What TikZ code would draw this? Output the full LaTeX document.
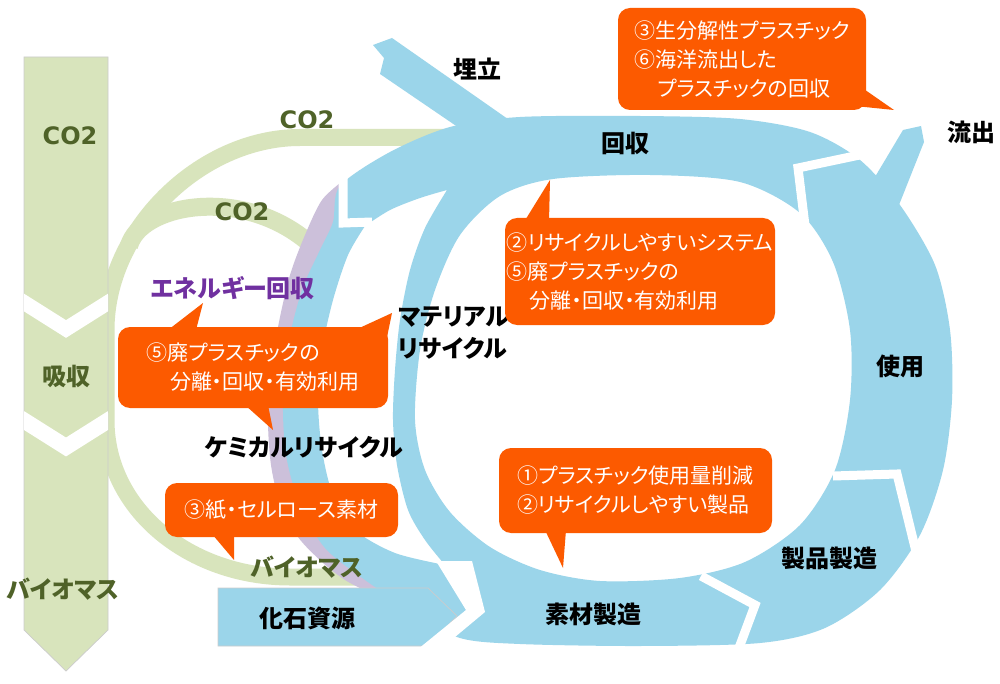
\documentclass[tikz,border=0pt]{standalone}
\usepackage{fontspec}
\newfontfamily\jp[RawFeature=+palt]{Noto Sans CJK JP}
\newfontfamily\dvs{DejaVu Sans}
\definecolor{ringblue}{RGB}{155,213,234}
\definecolor{leaf}{RGB}{216,228,188}
\definecolor{lav}{RGB}{204,192,218}
\definecolor{olive}{RGB}{79,98,40}
\definecolor{vio}{RGB}{112,48,160}
\definecolor{orng}{RGB}{252,90,0}
\begin{document}
\begin{tikzpicture}[x=1pt,y=-1pt,
  lbl/.style={font=\jp\bfseries\fontsize{24}{32}\selectfont, inner sep=0pt, text=black},
  glbl/.style={font=\dvs\bfseries\fontsize{24}{28}\selectfont, inner sep=0pt, text=olive},
  jglbl/.style={lbl, text=olive},
  cbox/.style={fill=orng, rounded corners=12pt, text=white, font=\jp\fontsize{21}{29}\selectfont, align=left, inner sep=0pt},
  ctail/.style={fill=orng},
  cutline/.style={draw=white, line width=9pt, line join=miter},
  thinrim/.style={draw=black!20, line width=0.7pt}
]
\useasboundingbox (0,0) rectangle (1000,684);
\fill[white] (0,0) rectangle (1000,684);

% green carbon path
\draw[leaf, line width=17pt] (448,137.5) -- (300,137.5) .. controls (200,137.5) and (106,230) .. (106,330) -- (106,420) .. controls (106,510) and (190,577) .. (290,577) -- (362,577);
\draw[leaf, line width=18pt] (129,246) .. controls (140,205) and (240,185) .. (308,242);

% left green arrow
\path[fill=leaf, thinrim] (24,57) -- (108,57) -- (108,630) -- (66,671) -- (24,630) -- cycle;
\begin{scope}
\clip (24,57) -- (108,57) -- (108,630) -- (66,671) -- (24,630) -- cycle;
\draw[cutline, line width=15pt] (20,300) -- (66,329) -- (112,300);
\draw[cutline, line width=16pt] (20,418) -- (66,447) -- (112,418);
\end{scope}

% purple chemical recycle strip
\fill[lav] plot[smooth] coordinates {(344,180) (322,200) (305,235) (290,275) (279,322) (271,370) (268,420) (271,465) (280,503) (298,537) (322,562) (345,580) (368,592)}
  -- plot[smooth] coordinates {(392,596) (360,575) (333,550) (316,525) (305,495) (294,455) (290,410) (294,355) (307,298) (326,247) (352,188)} -- cycle;

% blue ring
\fill[ringblue, even odd rule]
 plot[smooth cycle] coordinates {(340,186) (390,152) (450,127) (520,117) (640,116) (740,119) (810,132) (860,160) (900,205) (935,265) (950,330) (952,400) (943,470) (920,535) (880,590) (825,628) (760,643) (640,646) (520,644) (460,638) (415,613) (365,580) (325,548) (300,505) (286,455) (283,400) (288,345) (302,290) (320,250) (333,222)}
 plot[smooth cycle] coordinates {(553,179) (650,175) (740,182) (800,213) (833,262) (850,330) (850,400) (835,470) (800,525) (745,562) (680,578) (600,581) (540,570) (490,547) (450,512) (425,470) (415,420) (420,350) (435,290) (460,235) (500,196)}
 plot[smooth] coordinates {(447,190) (420,198) (390,210) (365,226)}
 -- plot[smooth] coordinates {(365,226) (348,255) (333,300) (322,350) (318,400) (322,450) (333,495) (355,530) (395,553) (445,565)}
 -- plot[smooth] coordinates {(445,565) (425,540) (408,510) (397,465) (393,420) (395,370) (400,320) (410,270) (425,228) (447,190)}
 -- cycle;

% branches
\fill[ringblue] (392,38) -- (515,124) -- (468,134) -- (380,74) -- (384,58) -- (373,45) -- cycle;
\fill[ringblue] (866,192) -- (903,130) -- (921,126) -- (924,142) -- (897,210) -- cycle;

% segment gaps
\draw[cutline] (343,178) -- (343,223) -- (372,222);
\draw[cutline] (888,149) -- (798,168) -- (806,234);
\draw[cutline] (833,476) -- (897,474) -- (921,572);
\draw[cutline] (701,576) -- (755,605) -- (733,664);

% fossil resource arrow
\path[fill=ringblue, thinrim] (218,588) -- (428,588) -- (457,616) -- (428,646) -- (218,646) -- cycle;
\fill[white] (436,561) -- (472,561) -- (485,612) -- (425,662) -- (412,654) -- (466,610) -- cycle;

% labels
\node[lbl] (umetate) at (477,69) {埋立};
\node[lbl] (kaishu) at (625,143) {回収};
\node[lbl] (ryushutsu) at (971,132) {流出};
\node[lbl] (shiyo) at (900,366) {使用};
\node[lbl] (seihin) at (829,558) {製品製造};
\node[lbl] (sozai) at (593,614) {素材製造};
\node[lbl] (kaseki) at (307,618) {化石資源};
\node[lbl, align=left, anchor=west] (material) at (398,333) {マテリアル\\リサイクル};
\node[lbl] (chemical) at (304,447) {ケミカルリサイクル};
\node[lbl, text=vio] (energy) at (233,288) {エネルギー回収};
\node[glbl] (co2a) at (70,136) {CO2};
\node[glbl] (co2b) at (307,120) {CO2};
\node[glbl] (co2c) at (242,212) {CO2};
\node[jglbl] (kyushu) at (66,376) {吸収};
\node[jglbl] (bio1) at (63,589) {バイオマス};
\node[jglbl] (bio2) at (307,567) {バイオマス};

% callouts
\fill[ctail] (845,105) -- (894,110) -- (858,85) -- cycle;
\node[cbox, minimum width=248pt, minimum height=102pt] (calA) at (742,59) {③生分解性プラスチック\\⑥海洋流出した\\\hspace*{1.1em}プラスチックの回収};

\fill[ctail] (524,222) -- (550,180) -- (549,222) -- cycle;
\node[cbox, minimum width=270pt, minimum height=107pt] (calB) at (640,271.5) {②リサイクルしやすいシステム\\⑤廃プラスチックの\\\hspace*{1.1em}分離・回収・有効利用};

\fill[ctail] (168,330) -- (203,303) -- (196,330) -- cycle;
\fill[ctail] (355,330) -- (392,313) -- (386,342) -- cycle;
\fill[ctail] (245,405) -- (273,430) -- (268,405) -- cycle;
\node[cbox, minimum width=270pt, minimum height=81pt] (calC) at (253,367.5) {⑤廃プラスチックの\\\hspace*{1.1em}分離・回収・有効利用};

\fill[ctail] (212,534) -- (234,560) -- (234,534) -- cycle;
\node[cbox, minimum width=233pt, minimum height=54pt] (calD) at (281.5,510) {③紙・セルロース素材};

\fill[ctail] (545,530) -- (563,568) -- (566,530) -- cycle;
\node[cbox, minimum width=273pt, minimum height=85pt] (calE) at (635.5,490.5) {①プラスチック使用量削減\\②リサイクルしやすい製品};
\end{tikzpicture}
\end{document}
